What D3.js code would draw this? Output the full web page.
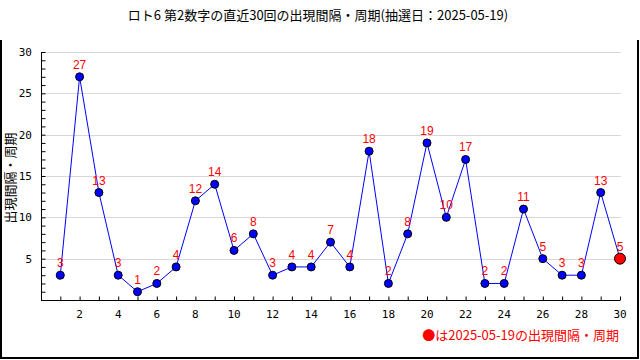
<!DOCTYPE html>
<html>
<head>
<meta charset="utf-8">
<script src="https://cdn.jsdelivr.net/npm/d3@7"></script>
<style>
  body { margin: 0; background: #fff; }
  svg { display: block; }
</style>
</head>
<body>
<script>
// 直近30回の出現間隔
const draws = d3.range(1, 31);
const gaps = [3, 27, 13, 3, 1, 2, 4, 12, 14, 6, 8, 3, 4, 4, 7, 4, 18, 2, 8, 19, 10, 17, 2, 2, 11, 5, 3, 3, 13, 5];
const yTicks = [5, 10, 15, 20, 25, 30];
const xTicks = d3.range(2, 31, 2);
const titleText = "ロト6 第2数字の直近30回の出現間隔・周期(抽選日：2025-05-19)";
const legendText = "●は2025-05-19の出現間隔・周期";

const w = 640;
const h = 360;
const mLeft = 41, mRight = 620, mTop = 52, mBottom = 300;

const svg = d3.select("body")
  .append("svg")
  .attr("width", w)
  .attr("height", h);

const x = d3.scaleLinear().domain([0, 30]).range([mLeft, mRight]);
const y = d3.scaleLinear().domain([0, 30]).range([mBottom, mTop]);

// frame
svg.append("path")
  .attr("d", `M1,40 V358 H638 V40`)
  .attr("fill", "none")
  .attr("stroke", "#000")
  .attr("stroke-width", 2);

// title
svg.append("text")
  .attr("x", 318)
  .attr("y", 20)
  .attr("text-anchor", "middle")
  .style("font", "13px 'Noto Sans CJK JP'")
  .text(titleText);

// grid
svg.selectAll(".grid")
  .data(yTicks)
  .enter()
  .append("line")
  .attr("x1", mLeft)
  .attr("x2", mRight + 1)
  .attr("y1", d => Math.round(y(d)) + 0.5)
  .attr("y2", d => Math.round(y(d)) + 0.5)
  .attr("stroke", "#d8d8d8");

// y axis
const yAxis = svg.append("g")
  .attr("transform", `translate(${mLeft + 0.5},0)`)
  .call(d3.axisRight(y).tickValues(d3.range(1, 31)).tickSize(4).tickFormat(""));
yAxis.select(".domain").remove();
yAxis.append("line").attr("y1", mTop).attr("y2", mBottom).attr("stroke", "#000");

svg.selectAll(".ylab")
  .data(yTicks)
  .enter()
  .append("text")
  .attr("x", 32)
  .attr("y", d => y(d) + 4)
  .attr("text-anchor", "end")
  .style("font", "11px 'DejaVu Sans Mono'")
  .text(d => d);

// x axis
const xAxis = svg.append("g")
  .attr("transform", `translate(0,${mBottom + 0.5})`)
  .call(d3.axisTop(x).tickValues(draws).tickSize(4).tickFormat(""));
xAxis.select(".domain").remove();
xAxis.append("line").attr("x1", mLeft).attr("x2", mRight).attr("stroke", "#000");

svg.selectAll(".xlab")
  .data(xTicks)
  .enter()
  .append("text")
  .attr("x", d => x(d))
  .attr("y", 318)
  .attr("text-anchor", "middle")
  .style("font", "11px 'DejaVu Sans Mono'")
  .text(d => d);

// y title
svg.append("text")
  .attr("transform", `translate(15,178) rotate(-90)`)
  .attr("text-anchor", "middle")
  .style("font", "13px 'Noto Sans CJK JP'")
  .text("出現間隔・周期");

// line
const line = d3.line()
  .x((d, i) => x(draws[i]))
  .y(d => y(d));

svg.append("path")
  .datum(gaps)
  .attr("d", line)
  .attr("fill", "none")
  .attr("stroke", "#0000ff")
  .attr("stroke-width", 1);

// points
svg.selectAll(".dot")
  .data(gaps)
  .enter()
  .append("circle")
  .attr("class", "dot")
  .attr("cx", (d, i) => x(draws[i]))
  .attr("cy", d => y(d))
  .attr("r", (d, i) => i === gaps.length - 1 ? 5.5 : 4)
  .attr("fill", (d, i) => i === gaps.length - 1 ? "#ff0000" : "#0000ff")
  .attr("stroke", "#000")
  .attr("stroke-width", 1);

// value labels
svg.selectAll(".val")
  .data(gaps)
  .enter()
  .append("text")
  .attr("x", (d, i) => x(draws[i]))
  .attr("y", d => y(d) - 8)
  .attr("text-anchor", "middle")
  .attr("fill", "#ff0000")
  .style("font", "12px 'Liberation Sans'")
  .text(d => d);

// legend
svg.append("text")
  .attr("x", 619)
  .attr("y", 340)
  .attr("text-anchor", "end")
  .attr("fill", "#ff0000")
  .style("font", "13px 'Noto Sans CJK JP'")
  .text(legendText);
</script>
</body>
</html>
